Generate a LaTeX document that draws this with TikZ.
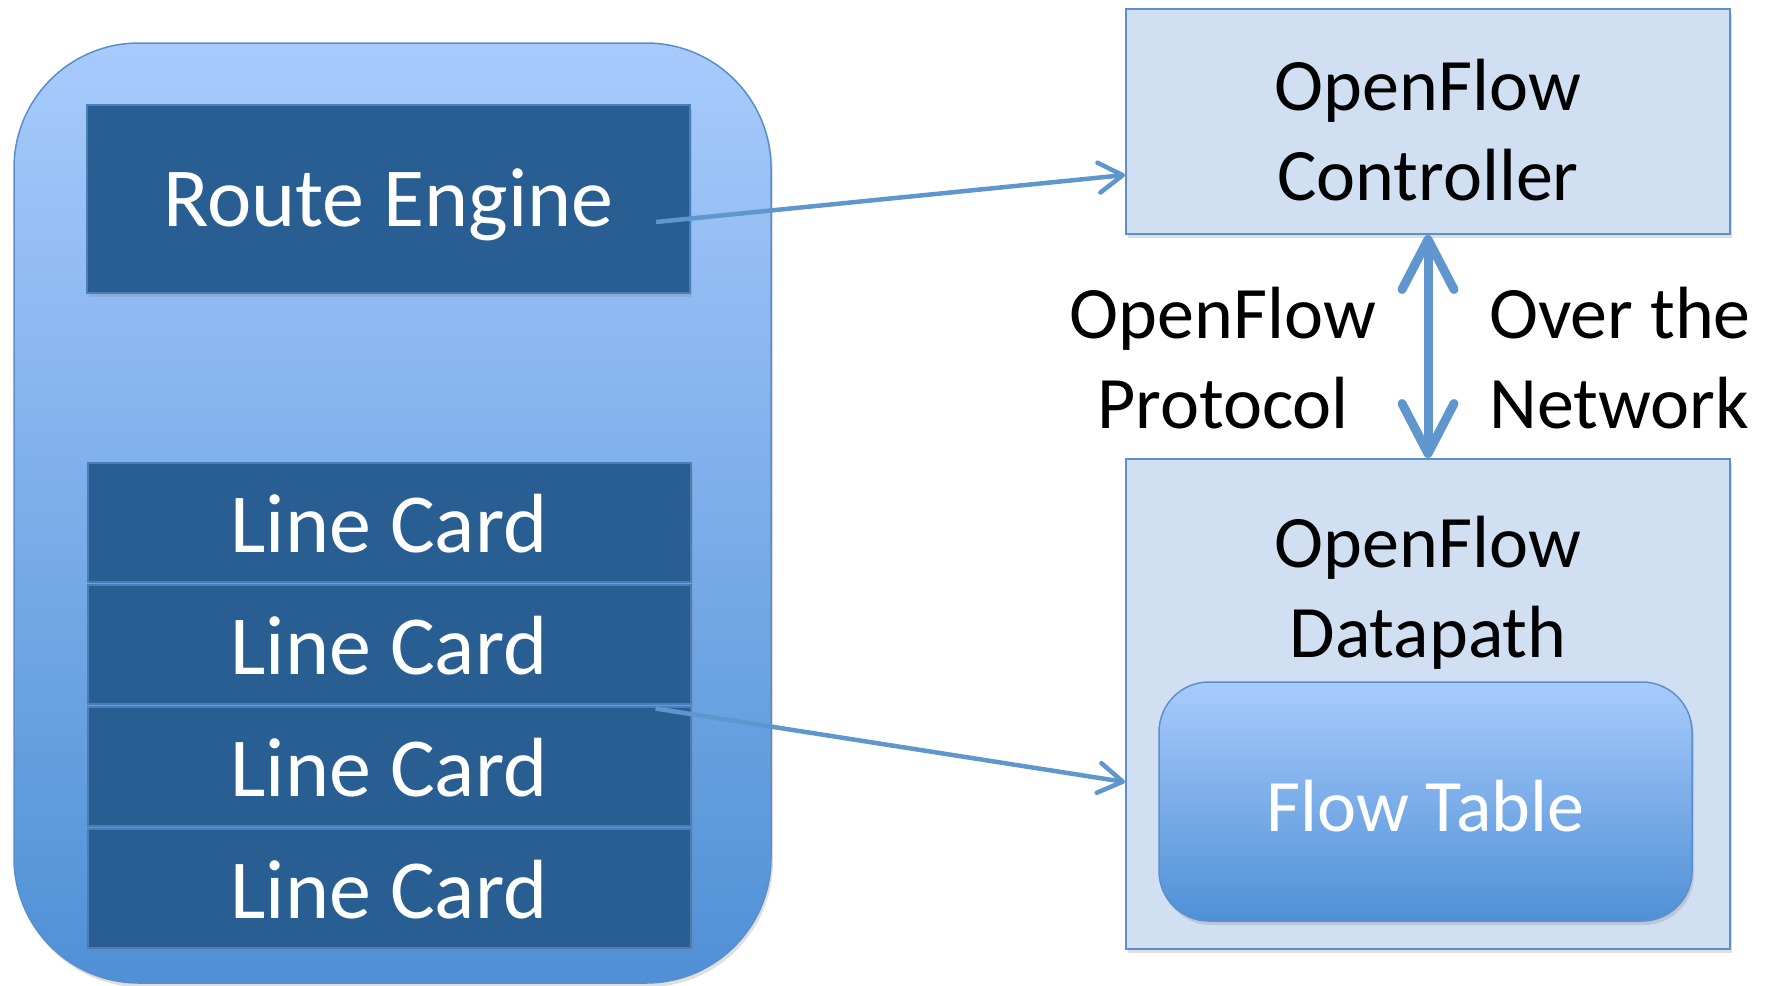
\documentclass[tikz,border=0pt]{standalone}
\usepackage{fontspec}
\setmainfont{Carlito}
\usetikzlibrary{arrows.meta,shadows,calc}

\definecolor{chTop}{HTML}{A8CBFC}
\definecolor{chBot}{HTML}{4F90D6}
\definecolor{chLine}{HTML}{5A8ECB}
\definecolor{darkFill}{HTML}{285E91}
\definecolor{darkLine}{HTML}{4A7EBB}
\definecolor{lightFill}{HTML}{D0E0F2}
\definecolor{lightLine}{HTML}{5E8FCC}
\definecolor{linkBlue}{HTML}{5F96CE}

\begin{document}
\begin{tikzpicture}[x=1pt,y=-1pt,
  softshadow/.style={drop shadow={opacity=0.25,shadow xshift=2pt,shadow yshift=-4pt}},
  chassis/.style={draw=chLine,line width=1.5pt,rounded corners=125pt,
    top color=chTop,bottom color=chBot,softshadow,inner sep=0pt},
  darkbox/.style={draw=darkLine,line width=2pt,fill=darkFill,softshadow,
    minimum width=603pt,inner sep=0pt,text=white,
    font=\fontsize{84}{101}\selectfont,text height=60pt,text depth=0pt},
  lightbox/.style={draw=lightLine,line width=2pt,fill=lightFill,softshadow,
    minimum width=604pt,inner sep=0pt},
  tablebox/.style={draw=lightLine,line width=1.5pt,rounded corners=50pt,
    top color=chTop,bottom color=chBot,softshadow,inner sep=0pt,text=white,
    font=\fontsize{74}{90}\selectfont,text height=59pt,text depth=0pt},
  rtext/.style={font=\fontsize{74}{90}\selectfont,inner sep=0pt,anchor=base},
  link/.style={draw=linkBlue,line width=4.5pt,
    -{Straight Barb[length=24pt,width=30pt,round]}},
  netlink/.style={draw=linkBlue,line width=9pt,
    {Straight Barb[length=50pt,width=52pt,round]}-{Straight Barb[length=50pt,width=52pt,round]}}
]
\useasboundingbox (0,0) rectangle (1771,985);

% router chassis with its route engine and line cards
\node[chassis,minimum width=757pt,minimum height=940pt] (chassis) at (392.5,513) {};
\node[darkbox,minimum height=188pt,text height=54pt] (engine) at (388.5,199) {Route Engine};
\node[darkbox,minimum height=119pt] (card1) at (389,522) {Line Card};
\node[darkbox,minimum height=119pt] (card2) at (389,644) {Line Card};
\node[darkbox,minimum height=119pt] (card3) at (389,766) {Line Card};
\node[darkbox,minimum height=119pt] (card4) at (389,888) {Line Card};

% OpenFlow controller
\node[lightbox,minimum height=225pt] (ctrl) at (1428,121.5) {};
\node[rtext] (ctrlA) at (1428,110) {OpenFlow};
\node[rtext] (ctrlB) at (1428,200) {Controller};

% OpenFlow datapath with its flow table
\node[lightbox,minimum height=490pt] (dp) at (1428,704) {};
\node[rtext] (dpA) at (1428,567) {OpenFlow};
\node[rtext] (dpB) at (1428,657) {Datapath};
\node[tablebox,minimum width=533pt,minimum height=239pt] (table) at (1425.5,801.5) {Flow Table};

% protocol link labels
\node[rtext] (protoA) at (1223,338) {OpenFlow};
\node[rtext] (protoB) at (1223,428) {Protocol};
\node[rtext,anchor=base west] (netA) at (1489,338) {Over the};
\node[rtext,anchor=base west] (netB) at (1489,428) {Network};

% connectors
\coordinate (engineOut) at ($(engine.east)+(-35,23)$);
\coordinate (ctrlIn) at ($(ctrl.west)+(0,53.5)$);
\coordinate (cardOut) at ($(card2.south east)+(-36,4)$);
\coordinate (dpIn) at ($(dp.west)+(0,78)$);
\draw[link] (engineOut) -- (ctrlIn);
\draw[link] (cardOut) -- (dpIn);
\draw[netlink] (ctrl.south) -- (dp.north);
\end{tikzpicture}
\end{document}
